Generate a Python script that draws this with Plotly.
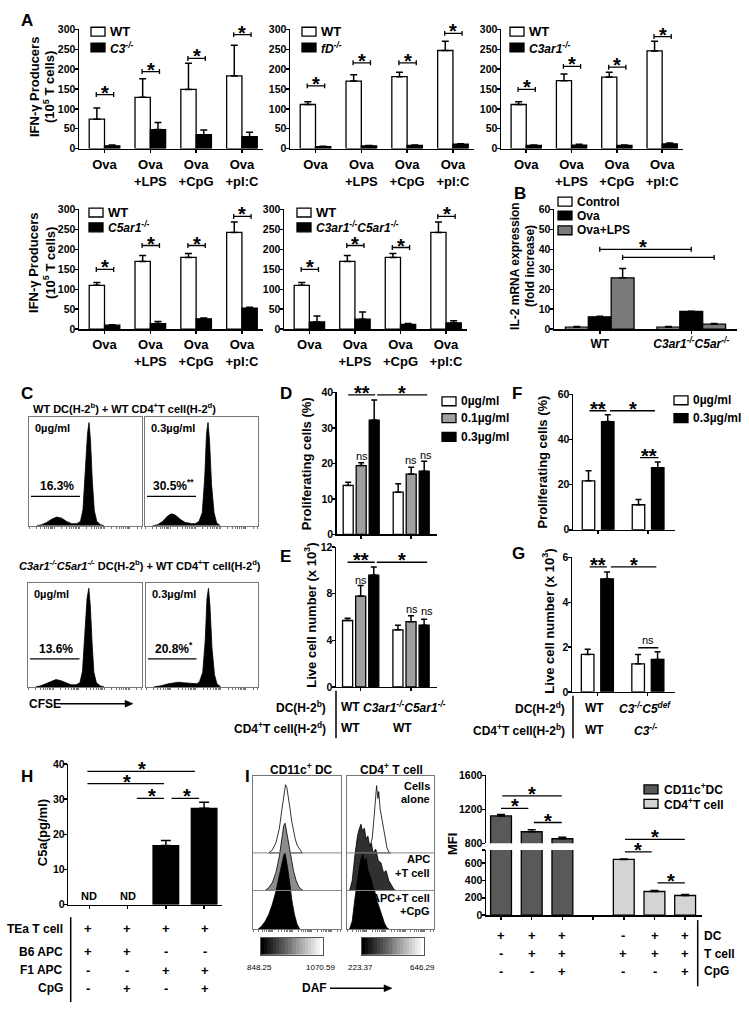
import math
import plotly.graph_objects as go

W, H = 749, 1018
FONT = "Liberation Sans, Arial, sans-serif"


def fx(px):
    return px / W


def fy(py):
    return 1 - py / H


# ====================== DATA ======================
a_cats = ["Ova", "Ova<br>+LPS", "Ova<br>+CpG", "Ova<br>+pI:C"]
a1_wt = [74, 129, 149, 183]
a1_wt_err = [28, 47, 66, 77]
a1_ko = [7, 48, 35, 30]
a1_ko_err = [2, 18, 12, 11]
a1_sig = [136, 194, 227, 287]
a2_wt = [111, 170, 181, 247]
a2_wt_err = [7, 16, 11, 23]
a2_ko = [5, 7, 8, 11]
a2_ko_err = [1, 1, 1, 1]
a2_sig = [158, 216, 216, 290]
a3_wt = [111, 171, 180, 246]
a3_wt_err = [7, 17, 12, 24]
a3_ko = [8, 9, 8, 12]
a3_ko_err = [1, 2, 1, 2]
a3_sig = [149, 207, 205, 282]
a4_wt = [110, 170, 180, 243]
a4_wt_err = [7, 15, 10, 26]
a4_ko = [10, 14, 26, 53]
a4_ko_err = [1, 5, 2, 2]
a4_sig = [150, 210, 210, 283]
a5_wt = [110, 170, 180, 243]
a5_wt_err = [7, 15, 10, 26]
a5_ko = [18, 25, 12, 16]
a5_ko_err = [15, 18, 2, 5]
a5_sig = [150, 210, 205, 283]

b_groups = ["WT", "<i>C3ar1<sup>-/-</sup>C5ar<sup>-/-</sup></i>"]
b_control = [1.0, 1.0]
b_control_err = [0.3, 0.3]
b_ova = [6.2, 8.9]
b_ova_err = [0.3, 0.1]
b_ovalps = [25.8, 2.5]
b_ovalps_err = [4.6, 0.4]
b_sig = [40.1, 36.0]

# CFSE histograms (log10 CFSE, % of max)
c1_x = [0.3, 0.5, 0.7, 0.9, 1.1, 1.3, 1.5, 1.7, 1.9, 2.05, 2.15, 2.25, 2.33, 2.39, 2.45, 2.52, 2.6, 2.7, 2.85, 3.0]
c1_y = [0, 1, 3, 6, 8, 7, 4, 2, 2, 4, 15, 50, 85, 95, 78, 42, 14, 4, 1, 0]
c2_x = [0.3, 0.5, 0.7, 0.9, 1.05, 1.2, 1.4, 1.6, 1.75, 1.85, 2.0, 2.15, 2.28, 2.38, 2.45, 2.51, 2.57, 2.65, 2.75, 2.85, 3.0]
c2_y = [0, 1, 4, 9, 11, 10, 6, 3, 2.5, 2, 2, 4, 12, 45, 85, 95, 78, 38, 12, 3, 0]
c3_x = [0.3, 0.5, 0.7, 0.9, 1.1, 1.3, 1.5, 1.7, 1.9, 2.05, 2.15, 2.25, 2.33, 2.4, 2.46, 2.53, 2.6, 2.7, 2.85, 3.0]
c3_y = [0, 1, 3, 5, 7, 6, 4, 2, 2, 4, 15, 50, 85, 95, 78, 42, 14, 4, 1, 0]
c4_x = [0.3, 0.6, 0.9, 1.1, 1.3, 1.5, 1.7, 1.9, 2.05, 2.15, 2.28, 2.38, 2.45, 2.51, 2.57, 2.65, 2.75, 2.85, 3.0]
c4_y = [0, 1, 3, 4, 4.5, 4, 3.5, 3, 3, 5, 14, 45, 85, 95, 78, 38, 12, 3, 0]
c_gates = [27, 27, 27, 27]
c_pcts = ["16.3%", "30.5%<sup>**</sup>", "13.6%", "20.8%<sup>*</sup>"]
c_doses = ["0µg/ml", "0.3µg/ml", "0µg/ml", "0.3µg/ml"]

d_0 = [13.8, 11.9]
d_0_err = [0.9, 2.4]
d_01 = [19.4, 17.0]
d_01_err = [0.8, 1.9]
d_03 = [32.2, 17.8]
d_03_err = [5.7, 2.8]
e_0 = [5.7, 4.9]
e_0_err = [0.2, 0.4]
e_01 = [7.8, 5.6]
e_01_err = [0.9, 0.5]
e_03 = [9.6, 5.3]
e_03_err = [0.7, 0.5]
f_0 = [21.7, 11.1]
f_0_err = [4.5, 2.3]
f_03 = [48.0, 27.5]
f_03_err = [3.0, 2.6]
g_0 = [1.67, 1.25]
g_0_err = [0.23, 0.42]
g_03 = [5.05, 1.45]
g_03_err = [0.31, 0.34]

h_vals = [None, None, 16.8, 27.4]
h_err = [0, 0, 1.4, 1.7]
h_rows = ["TEa T cell", "B6 APC", "F1 APC", "CpG"]
h_table = [["+", "+", "+", "+"], ["+", "+", "-", "-"], ["-", "-", "+", "+"], ["-", "+", "-", "+"]]

# DAF histograms (box-relative x, height)
i_dc_alone_x = [18, 22, 26, 30, 33, 35, 37, 38.5, 40, 42, 44, 46, 48, 50, 52, 54, 56]
i_dc_alone_y = [0, 3, 10, 25, 45, 60, 69, 66, 55, 45, 32, 22, 14, 8, 5, 2, 0]
i_dc_apc_x = [14, 18, 22, 26, 30, 33, 35, 36.5, 38, 40, 43, 46, 49, 52, 55, 57]
i_dc_apc_y = [0, 3, 8, 18, 35, 55, 66, 68, 60, 48, 32, 20, 10, 4, 1, 0]
i_dc_cpg_x = [6, 10, 14, 18, 22, 26, 30, 33, 35, 36.5, 38, 40, 42, 44, 47, 50, 53]
i_dc_cpg_y = [0, 3, 8, 15, 25, 38, 55, 68, 75, 77, 70, 58, 45, 30, 15, 5, 0]
i_t_alone_x = [20, 24, 27, 29, 31, 33, 34, 35.5, 36.5, 38, 40, 42, 44, 46, 48, 50]
i_t_alone_y = [0, 3, 8, 15, 35, 60, 68, 55, 62, 45, 35, 22, 12, 5, 1, 0]
i_t_apc_x = [3, 6, 9, 12, 14, 16, 18, 20, 22, 24, 26, 28, 30, 33, 36, 39, 42, 45, 48, 51, 54, 56]
i_t_apc_y = [0, 10, 35, 55, 62, 67, 60, 63, 52, 55, 45, 48, 38, 42, 30, 28, 18, 20, 10, 5, 1, 0]
i_t_cpg_x = [3, 6, 9, 12, 14, 16, 18, 20, 22, 24, 26, 28, 30, 32, 34, 37, 40, 43, 46, 48]
i_t_cpg_y = [0, 8, 30, 50, 62, 70, 76, 68, 72, 60, 55, 50, 42, 38, 30, 22, 14, 6, 1, 0]
i_bases = [77, 39, 0]

i_dc = [1122, 936, 854]
i_dc_err = [16, 23, 16]
i_t = [641, 272, 226]
i_t_err = [5, 11, 12]
i_rows = ["DC", "T cell", "CpG"]
i_table = [["+", "+", "+", "", "-", "+", "+"],
           ["-", "+", "+", "", "+", "+", "+"],
           ["-", "-", "+", "", "-", "-", "+"]]

# ====================== HELPERS ======================
fig = go.Figure()
layout = {}
ann = []
shp = []


def xr(n):
    return "x" if n == 1 else f"x{n}"


def yr(n):
    return "y" if n == 1 else f"y{n}"


def fnt(size=12, bold=True, color="black", family=FONT):
    return dict(family=family, size=size, color=color, weight="bold" if bold else "normal")


def base_axis(**kw):
    d = dict(showline=True, linecolor="black", linewidth=1.5, ticks="outside", ticklen=3,
             tickwidth=1.5, tickcolor="black", zeroline=False, showgrid=False,
             tickfont=fnt(11), fixedrange=True)
    d.update(kw)
    return d


def add_axes(n, x0, x1, ytop, ybot, xrange, yrange, xkw=None, ykw=None):
    xk = "xaxis" if n == 1 else f"xaxis{n}"
    yk = "yaxis" if n == 1 else f"yaxis{n}"
    xd = base_axis(domain=[fx(x0), fx(x1)], range=xrange, anchor=yr(n))
    yd = base_axis(domain=[fy(ybot), fy(ytop)], range=yrange, anchor=xr(n),
                   ticklabelstandoff=-3, tickfont=fnt(10.5))
    if xkw:
        xd.update(xkw)
    if ykw:
        yd.update(ykw)
    layout[xk] = xd
    layout[yk] = yd


def text(px, py, s, size=12, bold=True, xanchor="center", yanchor="middle", angle=0, family=FONT):
    ann.append(dict(x=fx(px), y=fy(py), xref="paper", yref="paper", text=s, showarrow=False,
                    font=fnt(size, bold, family=family), xanchor=xanchor, yanchor=yanchor,
                    textangle=angle))


def dtext(n, x, y, s, size=12, bold=True, yanchor="middle", yshift=0):
    ann.append(dict(x=x, y=y, xref=xr(n), yref=yr(n), text=s, showarrow=False,
                    font=fnt(size, bold), xanchor="center", yanchor=yanchor, yshift=yshift))


def star(n, x, y, s="*", size=20):
    ann.append(dict(x=x, y=y, xref=xr(n), yref=yr(n), text=s, showarrow=False,
                    font=fnt(size, True), xanchor="center", yanchor="bottom", yshift=-11))


def seg(n, x0, y0, x1, y1, w=1.3, color="black"):
    shp.append(dict(type="line", xref=xr(n), yref=yr(n), x0=x0, y0=y0, x1=x1, y1=y1,
                    line=dict(color=color, width=w)))


def pline(x0, y0, x1, y1, w=1.3, color="black"):
    shp.append(dict(type="line", xref="paper", yref="paper", x0=fx(x0), y0=fy(y0), x1=fx(x1),
                    y1=fy(y1), line=dict(color=color, width=w)))


def prect(x0, y0, x1, y1, fill, line="black", w=1):
    shp.append(dict(type="rect", xref="paper", yref="paper", x0=fx(x0), y0=fy(y1), x1=fx(x1),
                    y1=fy(y0), fillcolor=fill, line=dict(color=line, width=w)))


def arrow(x0, x1, y):
    pline(x0, y, x1 - 5, y, w=1.5)
    shp.append(dict(type="path", xref="paper", yref="paper",
                    path=f"M {fx(x1)} {fy(y)} L {fx(x1 - 8)} {fy(y - 3.5)} L {fx(x1 - 8)} {fy(y + 3.5)} Z",
                    fillcolor="black", line=dict(color="black", width=0.5)))


def bar(n, x, y, err, color, width, offset, err_w=3.5):
    eb = None
    if err is not None:
        eb = dict(type="data", array=err, arrayminus=[0] * len(err), symmetric=False,
                  color="black", thickness=1.5, width=err_w)
    fig.add_trace(go.Bar(x=x, y=y, width=width, offset=offset, error_y=eb,
                         marker=dict(color=color, line=dict(color="black", width=1.3)),
                         xaxis=xr(n), yaxis=yr(n), showlegend=False, hoverinfo="skip"))


# ====================== PANEL A ======================
A_PANELS = [
    (1, 79, 263, 23.3, 144.3, a1_wt, a1_wt_err, a1_ko, a1_ko_err, a1_sig, "C3<sup>-/-</sup>", 91, 26, 42),
    (2, 290, 474, 23.3, 144.3, a2_wt, a2_wt_err, a2_ko, a2_ko_err, a2_sig, "fD<sup>-/-</sup>", 302, 26, 42),
    (3, 501, 683, 23.3, 144.3, a3_wt, a3_wt_err, a3_ko, a3_ko_err, a3_sig, "C3ar1<sup>-/-</sup>", 510, 26, 42),
    (4, 79, 263, 205.7, 327, a4_wt, a4_wt_err, a4_ko, a4_ko_err, a4_sig, "C5ar1<sup>-/-</sup>", 89, 209, 224),
    (5, 284, 467, 205.7, 327, a5_wt, a5_wt_err, a5_ko, a5_ko_err, a5_sig,
     "C3ar1<sup>-/-</sup>C5ar1<sup>-/-</sup>", 297, 209, 224),
]
xs4 = list(range(len(a_cats)))
for (n, x0, x1, yt, yb, wt, wte, ko, koe, sig, koname, lx, ly1, ly2) in A_PANELS:
    add_axes(n, x0, x1, yt, yb, [-0.557, 3.46], [0, 301],
             xkw=dict(tickvals=xs4, ticktext=a_cats, tickfont=fnt(13)),
             ykw=dict(tickvals=[0, 50, 100, 150, 200, 250, 300]))
    bar(n, xs4, wt, wte, "white", 0.334, -0.334)
    bar(n, xs4, ko, koe, "black", 0.334, 0.0)
    cap = 2.5 / ((yb - yt) / 300)
    for i, s in enumerate(sig):
        seg(n, i - 0.18, s, i + 0.2, s)
        seg(n, i - 0.18, s - cap, i - 0.18, s + cap)
        seg(n, i + 0.2, s - cap, i + 0.2, s + cap)
        star(n, i + 0.01, s)
    prect(lx, ly1 - 4.5, lx + 14, ly1 + 4.5, "white", w=1.3)
    prect(lx, ly2 - 4.5, lx + 14, ly2 + 4.5, "black", w=1.3)
    text(lx + 17, ly1, "WT", size=13, xanchor="left")
    text(lx + 17, ly2, f"<i>{koname}</i>", size=12, xanchor="left")

for yc in (82, 260):
    text(34, yc, "IFN-γ Producers", size=13, angle=-90)
    text(49, yc, "(10<sup>5</sup> T cells)", size=13, angle=-90)

# ====================== PANEL B ======================
add_axes(6, 554, 737, 205.7, 327, [-0.5, 1.5], [0, 60.2],
         xkw=dict(tickvals=[0, 1], ticktext=b_groups, tickfont=fnt(12)),
         ykw=dict(tickvals=[0, 10, 20, 30, 40, 50, 60]))
bar(6, [0, 1], b_control, b_control_err, "white", 0.25, -0.375)
bar(6, [0, 1], b_ova, b_ova_err, "black", 0.25, -0.125)
bar(6, [0, 1], b_ovalps, b_ovalps_err, "#7a7a7a", 0.25, 0.125)
bcap = 2.5 / (121.3 / 60)
for (xa, xb), s in zip([(0, 1), (0.25, 1.25)], b_sig):
    seg(6, xa, s, xb, s)
    seg(6, xa, s - bcap, xa, s + bcap)
    seg(6, xb, s - bcap, xb, s + bcap)
star(6, 0.47, b_sig[0])
for yy, col, lab in [(198, "white", "Control"), (212, "black", "Ova"), (227, "#7a7a7a", "Ova+LPS")]:
    prect(558, yy - 4.5, 572, yy + 4.5, col, w=1.3)
    text(575, yy, lab, size=12, xanchor="left")
text(515, 263, "IL-2 mRNA expression", size=12, angle=-90)
text(530, 263, "(fold increase)", size=12, angle=-90)

# ====================== PANEL C ======================
minor_ticks = []
for dec in range(0, 5):
    for m in range(1, 10):
        v = dec + math.log10(m)
        if v <= 4.5:
            minor_ticks.append(v)
C_BOXES = [(7, 29, 142, 416, 526, c1_x, c1_y), (8, 145, 258, 416, 526, c2_x, c2_y),
           (9, 28, 142, 584, 689, c3_x, c3_y), (10, 146, 258, 584, 689, c4_x, c4_y)]
for k, (n, x0, x1, yt, yb, hx, hy) in enumerate(C_BOXES):
    add_axes(n, x0, x1, yt, yb, [0, 4.5], [0, 100],
             xkw=dict(linecolor="#777", linewidth=1, mirror=True, tickvals=minor_ticks,
                      showticklabels=False, ticklen=2, tickwidth=0.8, tickcolor="#555"),
             ykw=dict(linecolor="#777", linewidth=1, mirror=True, ticks="", showticklabels=False))
    fig.add_trace(go.Scatter(x=hx, y=hy, mode="lines", fill="tozeroy", fillcolor="black",
                             line=dict(color="black", width=0.8), xaxis=xr(n), yaxis=yr(n),
                             showlegend=False, hoverinfo="skip"))
    seg(n, 0.08, c_gates[k], 2.03, c_gates[k], w=1.3)
    dtext(n, 1.12, c_gates[k], c_pcts[k], size=12, yanchor="bottom", yshift=1)
    text(x0 + 4, yt + 11, c_doses[k], size=11, xanchor="left")
text(31, 407, "WT DC(H-2<sup>b</sup>) + WT CD4<sup>+</sup>T cell(H-2<sup>d</sup>)", size=11, xanchor="left")
text(17, 566, "<i>C3ar1<sup>-/-</sup>C5ar1<sup>-/-</sup></i> DC(H-2<sup>b</sup>) + WT CD4<sup>+</sup>T cell(H-2<sup>d</sup>)",
     size=11, xanchor="left")
text(27, 706, "CFSE", size=12, xanchor="left")
arrow(60, 133, 706)

# ====================== PANEL D / E ======================
D_OFF = [-0.36, -0.1, 0.16]
add_axes(11, 336.7, 436.7, 390.7, 534.7, [-0.49, 1.51], [0, 40.1],
         xkw=dict(tickvals=[0, 1], showticklabels=False),
         ykw=dict(tickvals=[0, 10, 20, 30, 40]))
for vals, errs, col, off in [(d_0, d_0_err, "white", D_OFF[0]), (d_01, d_01_err, "#a0a0a0", D_OFF[1]),
                             (d_03, d_03_err, "black", D_OFF[2])]:
    bar(11, [0, 1], vals, errs, col, 0.2, off, err_w=3)
seg(11, -0.26, 39.3, 0.28, 39.3)
seg(11, 0.32, 39.3, 1.32, 39.3)
star(11, 0.01, 39.3, "**")
star(11, 0.82, 39.3, "*")
dtext(11, 0.01, 22.1, "ns", size=11, bold=False)
dtext(11, 0.99, 20.9, "ns", size=11, bold=False)
dtext(11, 1.29, 22.4, "ns", size=11, bold=False)
for yy, col, lab in [(400, "white", "0µg/ml"), (417, "#a0a0a0", "0.1µg/ml"), (436, "black", "0.3µg/ml")]:
    prect(442, yy - 4.5, 456, yy + 4.5, col, w=1.3)
    text(459, yy, lab, size=12, xanchor="left")
text(306.7, 463, "Proliferating cells (%)", size=13, angle=-90)

add_axes(12, 336, 436.7, 547, 689, [-0.49, 1.51], [0, 12.05],
         xkw=dict(tickvals=[0, 1], showticklabels=False),
         ykw=dict(tickvals=[0, 4, 8, 12]))
for vals, errs, col, off in [(e_0, e_0_err, "white", D_OFF[0]), (e_01, e_01_err, "#a0a0a0", D_OFF[1]),
                             (e_03, e_03_err, "black", D_OFF[2])]:
    bar(12, [0, 1], vals, errs, col, 0.2, off, err_w=3)
seg(12, -0.26, 10.7, 0.28, 10.7)
seg(12, 0.32, 10.7, 1.32, 10.7)
star(12, 0.01, 10.7, "**")
star(12, 0.82, 10.7, "*")
dtext(12, 0.0, 9.2, "ns", size=11, bold=False)
dtext(12, 1.01, 6.7, "ns", size=11, bold=False)
dtext(12, 1.31, 6.5, "ns", size=11, bold=False)
text(310, 617, "Live cell number (x 10<sup>3</sup>)", size=13, angle=-90)

text(328, 709, "DC(H-2<sup>b</sup>)", size=12, xanchor="right")
text(328, 731, "CD4<sup>+</sup>T cell(H-2<sup>d</sup>)", size=12, xanchor="right")
pline(336, 693, 336, 741, w=1.5)
text(350, 709, "WT", size=12)
text(404, 709, "<i>C3ar1<sup>-/-</sup>C5ar1<sup>-/-</sup></i>", size=12)
text(350, 731, "WT", size=12)
text(402, 731, "WT", size=12)

# ====================== PANEL F / G ======================
F_OFF = [-0.315, 0.07]
add_axes(13, 573, 675, 392.7, 530, [-0.5, 1.54], [0, 60.2],
         xkw=dict(tickvals=[0, 1], showticklabels=False),
         ykw=dict(tickvals=[0, 20, 40, 60]))
bar(13, [0, 1], f_0, f_0_err, "white", 0.25, F_OFF[0], err_w=3)
bar(13, [0, 1], f_03, f_03_err, "black", 0.25, F_OFF[1], err_w=3)
seg(13, -0.17, 52.8, 0.17, 52.8)
seg(13, 0.24, 52.8, 1.14, 52.8)
seg(13, 0.84, 32.0, 1.21, 32.0)
star(13, 0.0, 52.8, "**")
star(13, 0.69, 52.8, "*")
star(13, 1.02, 32.0, "**")
for yy, col, lab in [(399, "white", "0µg/ml"), (417, "black", "0.3µg/ml")]:
    prect(674, yy - 4.5, 688, yy + 4.5, col, w=1.3)
    text(691, yy, lab, size=12, xanchor="left")
text(543, 462, "Proliferating cells (%)", size=13, angle=-90)

add_axes(14, 572, 675, 557.7, 694, [-0.5, 1.54], [0, 6.02],
         xkw=dict(tickvals=[0, 1], showticklabels=False),
         ykw=dict(tickvals=[0, 2, 4, 6]))
bar(14, [0, 1], g_0, g_0_err, "white", 0.25, F_OFF[0], err_w=3)
bar(14, [0, 1], g_03, g_03_err, "black", 0.25, F_OFF[1], err_w=3)
seg(14, -0.15, 5.58, 0.19, 5.58)
seg(14, 0.27, 5.58, 1.17, 5.58)
seg(14, 0.81, 1.97, 1.21, 1.97)
star(14, 0.02, 5.58, "**")
star(14, 0.72, 5.58, "*")
dtext(14, 1.01, 1.97, "ns", size=11, bold=False, yanchor="bottom", yshift=0)
text(548, 623, "Live cell number (x 10<sup>3</sup>)", size=13, angle=-90)

text(567, 710, "DC(H-2<sup>d</sup>)", size=12, xanchor="right")
text(567, 733, "CD4<sup>+</sup>T cell(H-2<sup>b</sup>)", size=12, xanchor="right")
pline(573, 698, 573, 741, w=1.5)
text(594, 710, "WT", size=12)
text(645, 710, "<i>C3<sup>-/-</sup>C5<sup>def</sup></i>", size=12)
text(594, 733, "WT", size=12)
text(645, 733, "<i>C3<sup>-/-</sup></i>", size=12)

# ====================== PANEL H ======================
add_axes(15, 68.3, 221.7, 766.7, 909.3, [-0.55, 3.46], [0, 40.1],
         xkw=dict(tickvals=[0, 1, 2, 3], showticklabels=False),
         ykw=dict(tickvals=[0, 10, 20, 30, 40]))
bar(15, [0, 1, 2, 3], h_vals, h_err, "black", 0.67, -0.335, err_w=5)
for i in range(2):
    dtext(15, i, 2.4, "ND", size=11)
for (xa, xb, yy) in [(-0.05, 2.76, 37.9), (-0.05, 1.95, 34.4), (1.24, 1.95, 30.2), (2.15, 2.87, 30.2)]:
    seg(15, xa, yy, xb, yy)
    star(15, (xa + xb) / 2 + 0.03, yy)
text(42, 837, "C5a(pg/ml)", size=13, angle=-90)
h_row_y = [934, 957, 976, 994]
h_col_x = [88, 127, 166, 205]
for r, lab in enumerate(h_rows):
    text(65, h_row_y[r], lab, size=12, xanchor="right")
    for c, v in enumerate(h_table[r]):
        text(h_col_x[c], h_row_y[r], v, size=13)
pline(70.7, 922, 70.7, 1008, w=1.5)

# ====================== PANEL I (histograms) ======================
I_BOXES = [
    (16, 253, 341, [(i_dc_alone_x, i_dc_alone_y, "white"), (i_dc_apc_x, i_dc_apc_y, "#8c8c8c"),
                    (i_dc_cpg_x, i_dc_cpg_y, "black")]),
    (17, 347, 434, [(i_t_alone_x, i_t_alone_y, "white"), (i_t_apc_x, i_t_apc_y, "#303030"),
                    (i_t_cpg_x, i_t_cpg_y, "black")]),
]
i_minor = [v * 100 / 4.5 for v in minor_ticks]
for n, x0, x1, hists in I_BOXES:
    add_axes(n, x0, x1, 779, 934, [0, 100], [0, 155],
             xkw=dict(linecolor="#777", linewidth=1, mirror=True, tickvals=i_minor,
                      showticklabels=False, ticklen=2, tickwidth=0.8, tickcolor="#555"),
             ykw=dict(linecolor="#777", linewidth=1, mirror=True, ticks="", showticklabels=False))
    for (hx, hy, col), b0 in zip(hists, i_bases):
        px_ = list(hx) + [hx[-1], hx[0]]
        py_ = [v + b0 for v in hy] + [b0, b0]
        fig.add_trace(go.Scatter(x=px_, y=py_, mode="lines", fill="toself", fillcolor=col,
                                 line=dict(color="black", width=0.8), xaxis=xr(n), yaxis=yr(n),
                                 showlegend=False, hoverinfo="skip"))
    for yy in (857, 895):
        pline(x0, yy, x1, yy, w=1, color="#888")
text(301, 772, "CD11c<sup>+</sup> DC", size=12)
text(391, 772, "CD4<sup>+</sup> T cell", size=12)
for yy, s in [(789, "Cells"), (802, "alone"), (863, "APC"), (877, "+T cell"), (903, "APC+T cell"), (916, "+CpG")]:
    text(432, yy, s, size=11, xanchor="right")

grad = list(range(21))
for n, x0, x1, lo, hi, lx0, lx1 in [(18, 261, 323, "848.25", "1070.59", 259, 320),
                                    (19, 362, 424, "223.37", "646.29", 360, 422)]:
    add_axes(n, x0, x1, 943, 960, [-0.5, 20.5], [-0.5, 0.5],
             xkw=dict(linecolor="#555", linewidth=1, mirror=True, ticks="", showticklabels=False),
             ykw=dict(linecolor="#555", linewidth=1, mirror=True, ticks="", showticklabels=False))
    fig.add_trace(go.Heatmap(z=[grad], x=grad, y=[0], colorscale=[[0, "black"], [1, "white"]],
                             showscale=False, xaxis=xr(n), yaxis=yr(n), hoverinfo="skip"))
    text(lx0, 973, lo, size=8, bold=False, family="Liberation Sans Narrow, Liberation Sans, Arial")
    text(lx1, 973, hi, size=8, bold=False, family="Liberation Sans Narrow, Liberation Sans, Arial")
text(300, 994, "DAF", size=12, xanchor="left")
arrow(330, 392, 994)

# ====================== PANEL I (bars, broken axis) ======================
I_DC_X = [0, 1, 2]
I_T_X = [4, 5, 6]
add_axes(20, 486, 701.7, 778.3, 847.3, [-0.49, 6.54], [800, 1603],
         xkw=dict(visible=False),
         ykw=dict(tickvals=[800, 1200, 1600]))
add_axes(21, 486, 701.7, 854, 920, [-0.49, 6.54], [0, 750],
         xkw=dict(tickvals=list(range(7)), showticklabels=False),
         ykw=dict(tickvals=[0, 200, 400, 600, 749], ticktext=["0", "200", "400", "600", ""]))
bar(20, I_DC_X, i_dc, i_dc_err, "#595959", 0.68, -0.34, err_w=4)
bar(21, I_DC_X, i_dc, None, "#595959", 0.68, -0.34)
bar(21, I_T_X, i_t, i_t_err, "#d4d4d4", 0.68, -0.34, err_w=4)
for (xa, xb, yy) in [(0.04, 1.98, 1359), (0.0, 0.89, 1212), (1.07, 1.98, 1045)]:
    seg(20, xa, yy, xb, yy)
    star(20, (xa + xb) / 2, yy)
seg(20, 4.04, 846, 5.99, 846)
star(20, 5.02, 846)
for (xa, xb, yy) in [(4.04, 4.91, 727), (5.1, 5.99, 371)]:
    seg(21, xa, yy, xb, yy)
    star(21, (xa + xb) / 2, yy)
for yy, col, lab in [(792.7, "#595959", "CD11c<sup>+</sup>DC"), (807.3, "#d4d4d4", "CD4<sup>+</sup>T cell")]:
    prect(644, yy - 4.5, 658, yy + 4.5, col, w=1.3)
    text(662, yy, lab, size=12, xanchor="left")
text(452, 848, "MFI", size=13, angle=-90)
i_row_y = [941, 959, 977]
i_col_x = [501, 532, 562, 593, 623, 655, 685]
for r, lab in enumerate(i_rows):
    text(702, i_row_y[r], lab, size=12, xanchor="left")
    for c, v in enumerate(i_table[r]):
        if v:
            text(i_col_x[c], i_row_y[r], v, size=13)
pline(697.7, 925, 697.7, 992, w=1.5)

# ====================== LETTERS ======================
for lab, px, py in [("A", 27, 15), ("B", 520, 190), ("C", 27, 392), ("D", 286, 392), ("E", 285, 557),
                    ("F", 517, 392), ("G", 518, 554), ("H", 27, 780), ("I", 247, 780)]:
    text(px, py, lab, size=17)

layout.update(dict(
    width=W, height=H, margin=dict(l=0, r=0, t=0, b=0), autosize=False,
    paper_bgcolor="white", plot_bgcolor="rgba(0,0,0,0)",
    font=dict(family=FONT, size=11, color="black"),
    showlegend=False, annotations=ann, shapes=shp, barmode="overlay",
))
fig.update_layout(**layout)
fig.write_html("out.html", config={"displayModeBar": False, "staticPlot": True},
               post_script="document.body.style.margin='0px';")
